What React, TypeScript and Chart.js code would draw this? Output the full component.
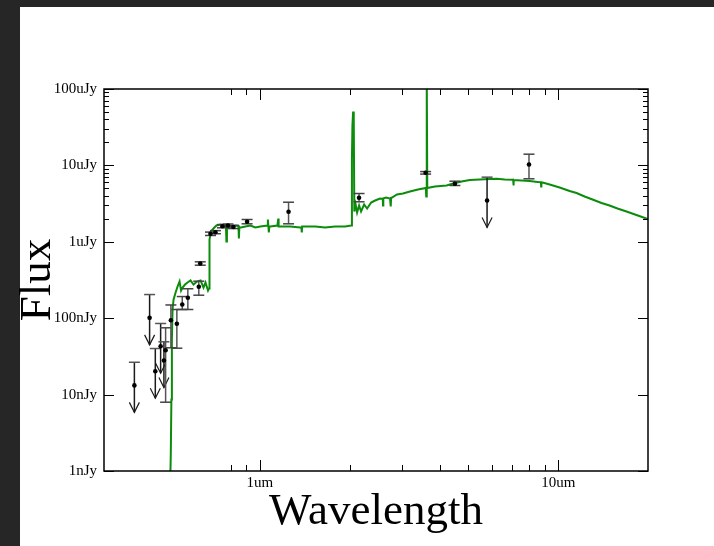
import React, { useEffect, useRef } from 'react';
import { Chart, registerables } from 'chart.js';
Chart.register(...registerables);

// Model SED: wavelength (um) and flux (nJy)
const modelWave = [0.4993, 0.5024, 0.5047, 0.5067, 0.5093, 0.5134, 0.5214, 0.5294, 0.5376, 0.5439, 0.5502, 0.5608, 0.5718, 0.5851, 0.5988, 0.6152, 0.6320, 0.6467, 0.6568, 0.6696, 0.6748, 0.6774, 0.6852, 0.6984, 0.7148, 0.7373, 0.7602, 0.7690, 0.7720, 0.7750, 0.7810, 0.8023, 0.8273, 0.8470, 0.8500, 0.8530, 0.8632, 0.8936, 0.9288, 0.9652, 1.003, 1.060, 1.063, 1.071, 1.075, 1.083, 1.144, 1.149, 1.152, 1.155, 1.161, 1.264, 1.365, 1.377, 1.381, 1.385, 1.397, 1.532, 1.654, 1.787, 1.930, 2.022, 2.034, 2.042, 2.053, 2.063, 2.072, 2.093, 2.117, 2.150, 2.183, 2.235, 2.287, 2.359, 2.432, 2.527, 2.581, 2.586, 2.592, 2.647, 2.730, 2.742, 2.747, 2.752, 2.772, 2.881, 3.017, 3.184, 3.387, 3.597, 3.611, 3.619, 3.630, 3.639, 3.861, 4.225, 4.504, 4.789, 5.055, 5.459, 5.896, 6.223, 6.617, 7.039, 7.060, 7.071, 7.082, 7.108, 7.543, 8.022, 8.533, 8.750, 8.766, 8.782, 8.867, 9.358, 10.11, 10.92, 11.52, 12.26, 13.03, 13.97, 14.86, 15.80, 16.94, 18.29, 19.98];
const modelFlux = [0.49, 1.64, 8.63, 52.6, 130, 176, 217, 260, 302, 230, 252, 276, 293, 312, 276, 302, 312, 252, 293, 230, 245, 1072, 1364, 1493, 1634, 1684, 1634, 1620, 1009, 1560, 1539, 1586, 1634, 1620, 1105, 1550, 1539, 1586, 1634, 1539, 1586, 1634, 1958, 1323, 1586, 1586, 1634, 1634, 2018, 1586, 1586, 1586, 1539, 1539, 1323, 1586, 1586, 1586, 1539, 1586, 1586, 1634, 11950, 33290, 50770, 39890, 2493, 3077, 2418, 2987, 2493, 3077, 2728, 3268, 3472, 3688, 3650, 2987, 3700, 3800, 3688, 3700, 2897, 3750, 3800, 4160, 4287, 4553, 4837, 5060, 3917, 150000, 150000, 5060, 5294, 5456, 5885, 6214, 6442, 6539, 6637, 6677, 6539, 6480, 6490, 5456, 6470, 6442, 6346, 6250, 6065, 6000, 5294, 5990, 5974, 5623, 5137, 4623, 4353, 3917, 3579, 3221, 2987, 2728, 2493, 2243, 1988];

// Photometry: wavelength (um), flux (nJy), error range, upper-limit flag
const obsWave = [0.3793, 0.4266, 0.4458, 0.4645, 0.4765, 0.4827, 0.5028, 0.5265, 0.5489, 0.5731, 0.6237, 0.6307, 0.6825, 0.7090, 0.7485, 0.7809, 0.8148, 0.9054, 1.247, 2.149, 3.593, 4.504, 5.774, 7.98];
const obsFlux = [13.2, 101, 20.2, 43, 27.9, 38.1, 94.1, 84.5, 151, 185, 258, 520, 1273, 1336, 1600, 1634, 1563, 1828, 2471, 3767, 8000, 5741, 3474, 10280];
const obsHigh = [26.5, 204, 40.1, 85.3, 49.1, 74.9, 149, 130, 192, 243, 305, 547, 1340, 1400, 1680, 1710, 1640, 1958, 3297, 4285, 8300, 6210, 7015, 14020];
const obsLow = [null, null, null, null, null, 7.95, 41, 40.5, 130, 130, 200, 494, 1210, 1275, 1525, 1560, 1490, 1720, 1720, 3340, 7700, 5457, null, 6680];
const obsIsLimit = [true, true, true, true, true, false, false, false, false, false, false, false, false, false, false, false, false, false, false, false, false, false, true, false];

// Axis ticks
const xMajorTicks = [1, 10];
const xTickLabels = ['1um', '10um'];
const xMinorTicks = [0.8, 0.9, 2, 3, 4, 5, 6, 7, 8, 9];
const yMajorTicks = [1, 10, 100, 1000, 10000, 100000];
const yTickLabels = ['1nJy', '10nJy', '100nJy', '1uJy', '10uJy', '100uJy'];
const yMinorTicks = [2000, 3000, 4000, 5000, 6000, 7000, 8000, 9000, 20000, 30000, 40000, 50000, 60000, 70000, 80000, 90000];

const FONT = "'Liberation Serif', 'Times New Roman', serif";

const backgroundPlugin = {
  id: 'bg',
  beforeDraw(chart: any) {
    const { ctx, width, height } = chart;
    ctx.save();
    ctx.fillStyle = '#262626';
    ctx.fillRect(0, 0, width, height);
    ctx.fillStyle = '#ffffff';
    ctx.fillRect(20, 7, width - 20, height - 7);
    ctx.restore();
  },
};

const errorBarPlugin = {
  id: 'errbars',
  beforeDatasetDraw(chart: any, args: any) {
    if (args.index !== 0) return;
    const { ctx, chartArea, scales } = chart;
    const xs = scales.x, ys = scales.y;
    ctx.save();
    ctx.beginPath();
    ctx.rect(chartArea.left, chartArea.top, chartArea.right - chartArea.left, chartArea.bottom - chartArea.top);
    ctx.clip();
    ctx.lineWidth = 1.5;
    const seg = (x1: number, y1: number, x2: number, y2: number, c: string) => {
      ctx.strokeStyle = c;
      ctx.beginPath();
      ctx.moveTo(x1, y1);
      ctx.lineTo(x2, y2);
      ctx.stroke();
    };
    for (let i = 0; i < obsWave.length; i++) {
      const px = xs.getPixelForValue(obsWave[i]);
      const py = ys.getPixelForValue(obsFlux[i]);
      const ph = ys.getPixelForValue(obsHigh[i]);
      if (obsIsLimit[i]) {
        const tip = py + 27;
        seg(px, ph, px, tip, '#1a1a1a');
        seg(px - 5.5, ph, px + 5.5, ph, '#555');
        ctx.strokeStyle = '#1a1a1a';
        ctx.lineWidth = 1.2;
        ctx.beginPath();
        ctx.moveTo(px - 5, tip - 10);
        ctx.lineTo(px, tip);
        ctx.lineTo(px + 5, tip - 10);
        ctx.stroke();
        ctx.lineWidth = 1.5;
      } else {
        const pl = ys.getPixelForValue(obsLow[i] as number);
        seg(px, ph, px, pl, '#555');
        seg(px - 5.5, ph, px + 5.5, ph, '#444');
        seg(px - 5.5, pl, px + 5.5, pl, '#444');
      }
    }
    ctx.restore();
  },
};

const framePlugin = {
  id: 'frame',
  afterDraw(chart: any) {
    const { ctx, chartArea, scales } = chart;
    const { left, right, top, bottom } = chartArea;
    const xs = scales.x, ys = scales.y;
    ctx.save();
    ctx.strokeStyle = '#000';
    ctx.lineWidth = 1;
    const line = (x1: number, y1: number, x2: number, y2: number) => {
      ctx.beginPath();
      ctx.moveTo(x1, y1);
      ctx.lineTo(x2, y2);
      ctx.stroke();
    };
    const xt = (v: number, len: number) => {
      const p = Math.round(xs.getPixelForValue(v)) + 0.5;
      line(p, bottom, p, bottom - len);
      line(p, top, p, top + len);
    };
    const yt = (v: number, len: number) => {
      const p = Math.round(ys.getPixelForValue(v)) + 0.5;
      line(left, p, left + len, p);
      line(right, p, right - len, p);
    };
    xMajorTicks.forEach((v) => xt(v, 11));
    xMinorTicks.forEach((v) => xt(v, 6));
    yMajorTicks.forEach((v) => yt(v, 10));
    yMinorTicks.forEach((v) => yt(v, 5));
    ctx.lineWidth = 1.5;
    ctx.strokeRect(left, top, right - left, bottom - top);
    ctx.restore();
  },
};

export default function App() {
  const ref = useRef<HTMLCanvasElement | null>(null);
  useEffect(() => {
    if (!ref.current) return;
    const chart = new Chart(ref.current, {
      type: 'scatter',
      data: {
        datasets: [
          {
            label: 'Photometry',
            data: obsWave.map((w, i) => ({ x: w, y: obsFlux[i] })),
            pointRadius: 2.3,
            pointHoverRadius: 2.3,
            backgroundColor: '#000',
            borderColor: '#000',
            borderWidth: 0,
            clip: 0,
          } as any,
          {
            label: 'Model',
            data: modelWave.map((w, i) => ({ x: w, y: modelFlux[i] })),
            showLine: true,
            pointRadius: 0,
            borderColor: '#0c8c0c',
            borderWidth: 2,
            tension: 0,
            clip: 0,
          } as any,
        ],
      },
      options: {
        animation: false,
        responsive: false,
        devicePixelRatio: 1,
        layout: { padding: { top: 89, right: 66, left: 0, bottom: 0 } },
        plugins: { legend: { display: false }, tooltip: { enabled: false } },
        scales: {
          x: {
            type: 'logarithmic',
            position: 'bottom',
            min: 0.3,
            max: 20,
            grid: { display: false, drawTicks: false },
            border: { display: false },
            afterBuildTicks: (s: any) => {
              s.ticks = xMajorTicks.map((v) => ({ value: v }));
            },
            afterFit: (s: any) => {
              s.height = 75;
            },
            ticks: {
              autoSkip: false,
              maxRotation: 0,
              padding: 3,
              color: '#000',
              font: { family: FONT, size: 15 },
              callback: (_v: any, i: number) => xTickLabels[i],
            },
            title: {
              display: true,
              text: 'Wavelength',
              color: '#000',
              font: { family: FONT, size: 45, lineHeight: 1 },
              padding: { top: 0, bottom: 11 },
            },
          },
          y: {
            type: 'logarithmic',
            position: 'left',
            min: 1,
            max: 100000,
            grid: { display: false, drawTicks: false },
            border: { display: false },
            afterBuildTicks: (s: any) => {
              s.ticks = yMajorTicks.map((v) => ({ value: v }));
            },
            afterFit: (s: any) => {
              s.width = 104;
            },
            ticks: {
              autoSkip: false,
              padding: 7,
              color: '#000',
              font: { family: FONT, size: 15 },
              callback: (_v: any, i: number) => yTickLabels[i],
            },
            title: {
              display: true,
              text: 'Flux',
              color: '#000',
              font: { family: FONT, size: 45, lineHeight: 1 },
              padding: { top: 16, bottom: 0 },
            },
          },
        },
      } as any,
      plugins: [backgroundPlugin, errorBarPlugin, framePlugin],
    });
    return () => chart.destroy();
  }, []);
  return (
    <div style={{ position: 'fixed', left: 0, top: 0, width: 714, height: 546 }}>
      <canvas ref={ref} width={714} height={546} style={{ display: 'block' }} />
    </div>
  );
}
